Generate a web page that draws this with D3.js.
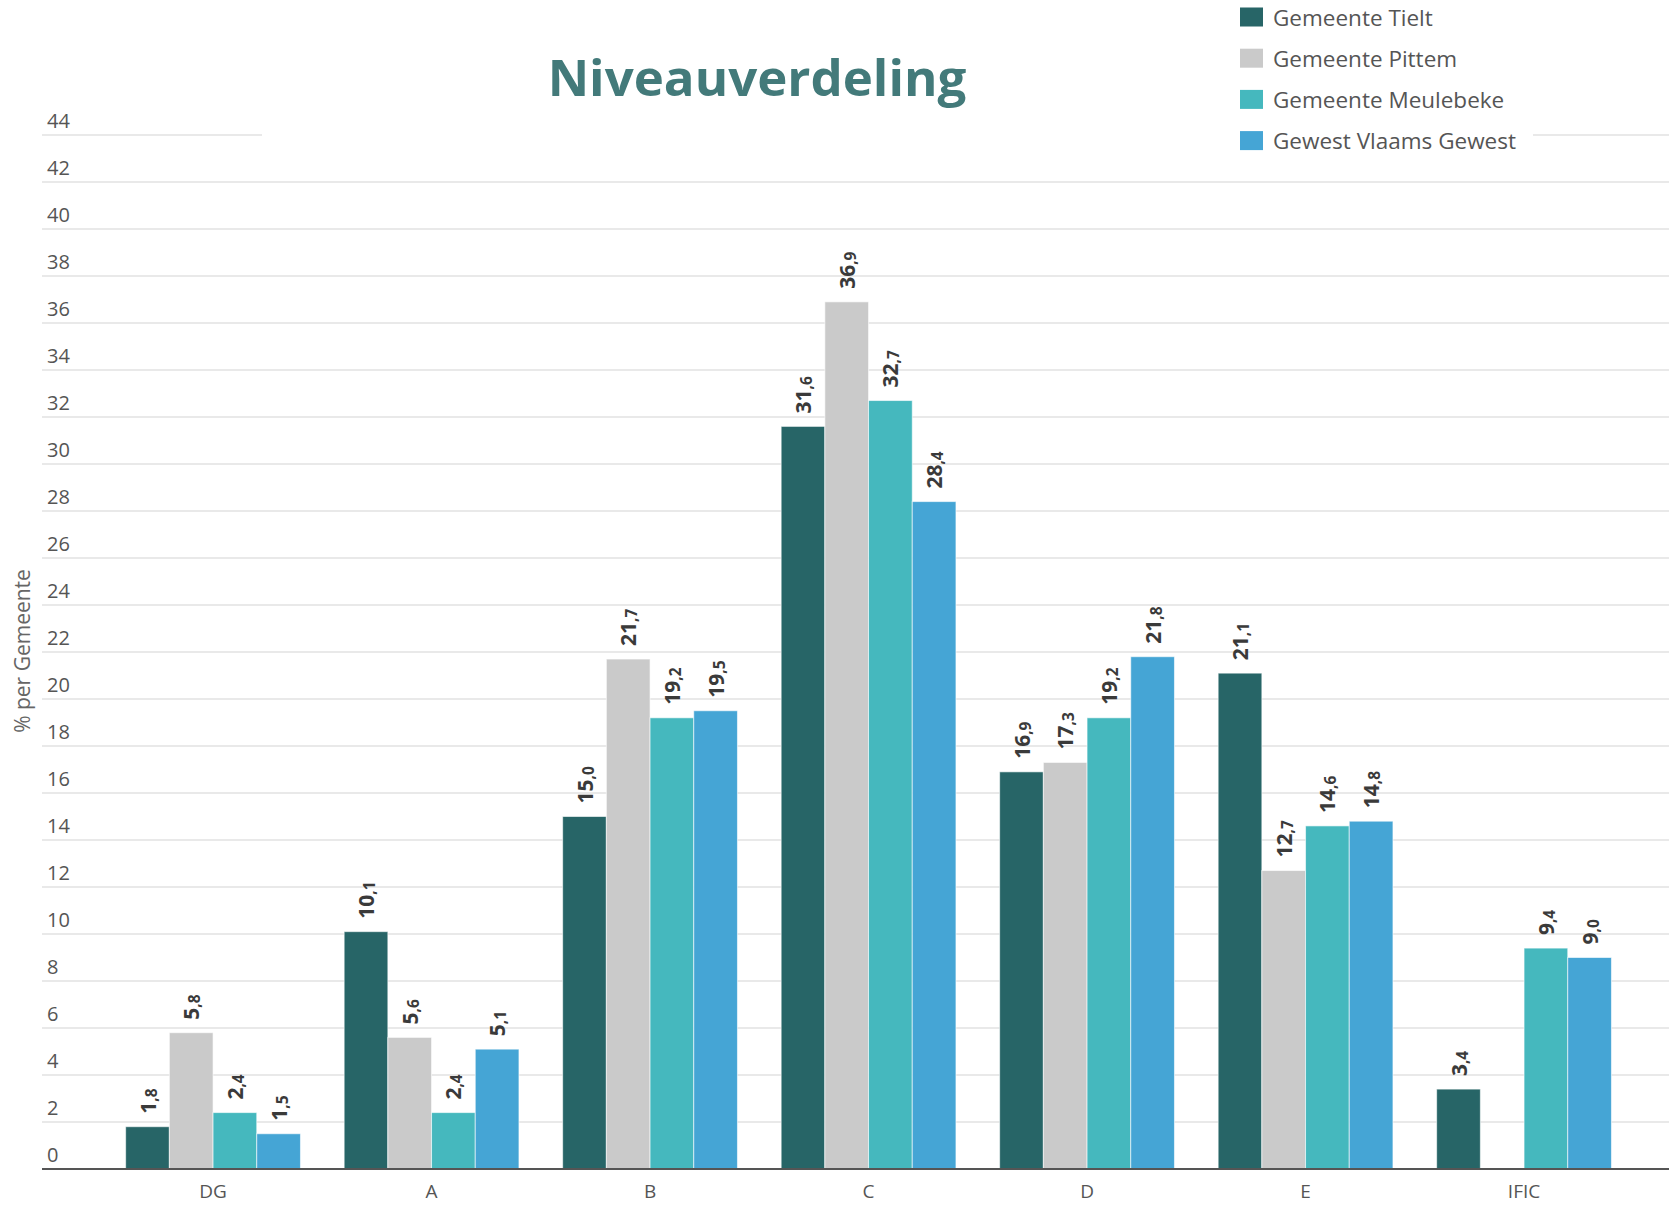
<!DOCTYPE html>
<html>
<head>
<meta charset="utf-8">
<script src="https://cdn.jsdelivr.net/npm/d3@7"></script>
<style>
  html, body { margin: 0; padding: 0; background: #ffffff; }
  svg { display: block; font-family: "Open Sans", "Noto Sans", sans-serif; }
</style>
</head>
<body>
<svg id="chart" width="1669" height="1205"></svg>
<script>
// ---- data ----
const categories = ["DG", "A", "B", "C", "D", "E", "IFIC"];
const seriesNames = ["Gemeente Tielt", "Gemeente Pittem", "Gemeente Meulebeke", "Gewest Vlaams Gewest"];
const tielt     = [1.8, 10.1, 15.0, 31.6, 16.9, 21.1, 3.4];
const pittem    = [5.8, 5.6, 21.7, 36.9, 17.3, 12.7, null];
const meulebeke = [2.4, 2.4, 19.2, 32.7, 19.2, 14.6, 9.4];
const vlaams    = [1.5, 5.1, 19.5, 28.4, 21.8, 14.8, 9.0];
const yTicks = [0, 2, 4, 6, 8, 10, 12, 14, 16, 18, 20, 22, 24, 26, 28, 30, 32, 34, 36, 38, 40, 42, 44];
const colors = ["#276567", "#cacaca", "#45b8be", "#45a5d5"];
const titleText = "Niveauverdeling";
const yTitle = "% per Gemeente";

const seriesValues = [tielt, pittem, meulebeke, vlaams];

const svg = d3.select("#chart");
const W = 1669;

const y = d3.scaleLinear().domain([0, 44]).range([1169, 135]);
const x0 = d3.scaleBand().domain(categories).range([103.8, 1633.3]).paddingInner(0.2).paddingOuter(0.1);
const x1 = d3.scaleBand().domain(seriesNames).range([0, x0.bandwidth()]).padding(0);

// gridlines
svg.append("g").selectAll("line").data(yTicks.filter(d => d > 0)).enter().append("line")
  .attr("x1", 42).attr("x2", W)
  .attr("y1", d => y(d)).attr("y2", d => y(d))
  .attr("stroke", "#e9e9e9").attr("stroke-width", 2);

// tick labels
svg.append("g").selectAll("text").data(yTicks).enter().append("text")
  .attr("x", 47).attr("y", d => y(d) - 15)
  .attr("dominant-baseline", "central")
  .attr("font-size", 20).attr("fill", "#555")
  .text(d => d);

// y title
svg.append("text")
  .attr("transform", "translate(22,651) rotate(-90)")
  .attr("text-anchor", "middle").attr("dominant-baseline", "central")
  .attr("font-size", 21).attr("fill", "#666")
  .text(yTitle);

// bars
const flat = [];
categories.forEach((c, i) => {
  seriesNames.forEach((s, j) => {
    const v = seriesValues[j][i];
    if (v !== null && v !== undefined) flat.push({ c, s, j, v });
  });
});

svg.append("g").selectAll("rect").data(flat).enter().append("rect")
  .attr("x", d => x0(d.c) + x1(d.s))
  .attr("width", x1.bandwidth())
  .attr("y", d => y(d.v))
  .attr("height", d => y(0) - y(d.v))
  .attr("fill", d => colors[d.j])
  .attr("stroke", "rgba(255,255,255,0.6)").attr("stroke-width", 1);

// value labels
const fmt = v => v.toFixed(1).split(".");
const lbl = svg.append("g").selectAll("text").data(flat).enter().append("text")
  .attr("transform", d => `translate(${x0(d.c) + x1(d.s) + x1.bandwidth() / 2},${y(d.v) - 13}) rotate(-90)`)
  .attr("text-anchor", "start").attr("dominant-baseline", "central")
  .attr("font-size", 21).attr("font-weight", "bold").attr("fill", "#3a3a3a");
lbl.append("tspan").text(d => fmt(d.v)[0]);
lbl.append("tspan").attr("font-size", 15.5).attr("dy", 3).text(d => "," + fmt(d.v)[1]);

// axis line
svg.append("line").attr("x1", 42).attr("x2", W).attr("y1", y(0)).attr("y2", y(0))
  .attr("stroke", "#555").attr("stroke-width", 2);

// x axis labels
svg.append("g").selectAll("text").data(categories).enter().append("text")
  .attr("x", d => x0(d) + x0.bandwidth() / 2).attr("y", 1191)
  .attr("text-anchor", "middle").attr("dominant-baseline", "central")
  .attr("font-size", 19).attr("fill", "#555")
  .text(d => d);

// title (with white background)
svg.append("rect").attr("x", 262).attr("y", 0).attr("width", 970).attr("height", 142).attr("fill", "#fff");
svg.append("text")
  .attr("x", 757).attr("y", 96)
  .attr("text-anchor", "middle")
  .attr("font-size", 51).attr("font-weight", "bold").attr("fill", "#437a7a")
  .text(titleText);

// legend
const leg = svg.append("g");
leg.append("rect").attr("x", 1232).attr("y", 0).attr("width", 301).attr("height", 152).attr("fill", "#fff");
const items = leg.selectAll("g.item").data(seriesNames).enter().append("g")
  .attr("transform", (d, i) => `translate(1240,${17 + i * 41.2})`);
items.append("rect").attr("x", 0).attr("y", -9.5).attr("width", 23).attr("height", 19)
  .attr("fill", (d, i) => colors[i]);
items.append("text").attr("x", 33).attr("y", 0).attr("dominant-baseline", "central")
  .attr("font-size", 22.5).attr("fill", "#555").text(d => d);
</script>
</body>
</html>
